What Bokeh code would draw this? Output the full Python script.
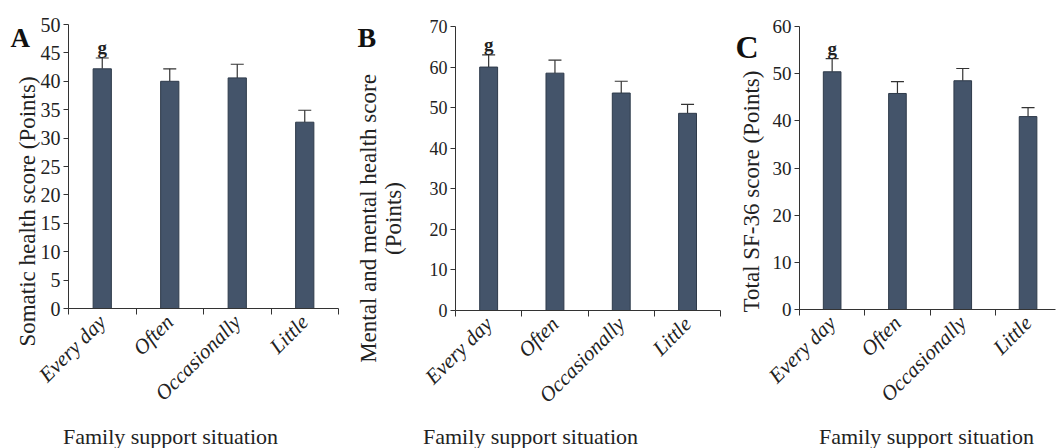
from math import pi
from bokeh.plotting import figure
from bokeh.models import (ColumnDataSource, Whisker, TeeHead, Label, Range1d,
                          FixedTicker)
from bokeh.layouts import row
from bokeh.embed import file_html
from bokeh.resources import INLINE
from bokeh.core.properties import value

categories = ["Every day", "Often", "Occasionally", "Little"]

somatic_mean = [42.2, 40.0, 40.6, 32.8]
somatic_err = [1.9, 2.2, 2.4, 2.1]

mental_mean = [60.0, 58.5, 53.6, 48.6]
mental_err = [3.0, 3.2, 2.9, 2.2]

total_mean = [50.4, 45.8, 48.5, 40.9]
total_err = [2.8, 2.5, 2.6, 1.9]

sig_marks = ["g", "", "", ""]

y_ticks_A = [0, 5, 10, 15, 20, 25, 30, 35, 40, 45, 50]
y_ticks_B = [0, 10, 20, 30, 40, 50, 60, 70]
y_ticks_C = [0, 10, 20, 30, 40, 50, 60]

SERIF = "Liberation Serif"
BAR = "#44546a"
INK = "#222222"
H = 448


def panel(means, errs, letter, ylabels, yticks, W, X0, s, xend, Yt, Yb,
          letter_pos, letter_size, ytick_size, ylab_x, ylab_y, xlab_x):
    xs = list(range(1, len(categories) + 1))
    ymax = yticks[-1]
    t = (Yb - Yt) / ymax
    x0 = 0.5 - X0 / s
    x1 = 0.5 + (W - X0) / s
    y0 = -(H - Yb) / t
    y1 = ymax + Yt / t
    src = ColumnDataSource(dict(
        x=xs, top=means, upper=[m + e for m, e in zip(means, errs)],
        mark=sig_marks))
    p = figure(width=W, height=H, output_backend="svg", toolbar_location=None,
               x_range=Range1d(x0, x1), y_range=Range1d(y0, y1),
               min_border=0)
    p.outline_line_color = None
    p.grid.grid_line_color = None
    p.vbar(x="x", top="top", width=0.27, source=src, fill_color=BAR,
           line_color="#2e3a4a", line_width=1)
    w = Whisker(source=src, base="x", upper="upper", lower="top",
                line_color="#333333", line_width=1.2,
                upper_head=TeeHead(size=13, line_color="#333333", line_width=1.2),
                lower_head=None)
    p.add_layout(w)
    p.text(x="x", y="upper", text="mark", source=src,
           text_font=value(SERIF), text_font_style="bold",
           text_font_size="19px", text_align="center",
           text_baseline="bottom", text_color=INK)

    # y axis
    ya = p.yaxis[0]
    ya.fixed_location = 0.5
    ya.bounds = (0, ymax)
    ya.ticker = FixedTicker(ticks=yticks)
    ya.major_label_text_font = SERIF
    ya.major_label_text_font_size = ytick_size
    ya.major_label_text_color = INK
    ya.major_label_standoff = 3
    ya.major_tick_in = 0
    ya.major_tick_out = 5
    ya.minor_tick_line_color = None
    ya.axis_line_color = "#333333"
    ya.major_tick_line_color = "#333333"

    # x axis
    xa = p.xaxis[0]
    xa.fixed_location = 0
    xa.bounds = (0.5, xend)
    xa.ticker = FixedTicker(ticks=xs,
                            minor_ticks=[x - 0.5 for x in xs] + [xs[-1] + 0.5])
    xa.major_label_overrides = {x: c for x, c in zip(xs, categories)}
    xa.major_tick_line_color = None
    xa.major_tick_out = 4
    xa.minor_tick_in = 0
    xa.minor_tick_out = 6
    xa.minor_tick_line_color = "#333333"
    xa.axis_line_color = "#333333"
    xa.major_label_orientation = pi / 4
    xa.major_label_standoff = 4
    xa.major_label_text_font = SERIF
    xa.major_label_text_font_style = "italic"
    xa.major_label_text_font_size = "21px"
    xa.major_label_text_color = INK

    # axis titles and panel letter as text labels
    for lx, txt in zip(ylab_x, ylabels):
        p.add_layout(Label(x=lx, y=H - ylab_y, x_units="screen",
                           y_units="screen", text=txt, angle=pi / 2,
                           text_font=SERIF, text_font_size="23px",
                           text_color=INK, text_align="center",
                           text_baseline="middle"))
    p.add_layout(Label(x=xlab_x, y=12, x_units="screen", y_units="screen",
                       text="Family support situation", text_font=SERIF,
                       text_font_size="22px", text_color=INK,
                       text_align="center", text_baseline="middle"))
    p.add_layout(Label(x=letter_pos[0], y=H - letter_pos[1], x_units="screen",
                       y_units="screen", text=letter, text_font=SERIF,
                       text_font_style="bold", text_font_size=letter_size,
                       text_color="#111111", text_baseline="alphabetic",
                       text_align="left"))
    return p


pA = panel(somatic_mean, somatic_err, "A", ["Somatic health score (Points)"],
           y_ticks_A, 350, 68, 67.5, 4.5, 24, 308,
           (10, 37), "27px", "20px", [27], 211, 170)
pB = panel(mental_mean, mental_err, "B",
           ["Mental and mental health score", "(Points)"],
           y_ticks_B, 380, 105, 66.3, 4.5, 26, 310,
           (7, 37), "28px", "18px", [18, 43], 218, 180)
pC = panel(total_mean, total_err, "C", ["Total SF-36 score (Points)"],
           y_ticks_C, 326, 69, 65.3, 4.42, 26, 309,
           (5, 46), "32px", "19px", [21], 191, 196)

layout = row(pA, pB, pC)
open("out.html", "w").write(file_html(layout, INLINE))
